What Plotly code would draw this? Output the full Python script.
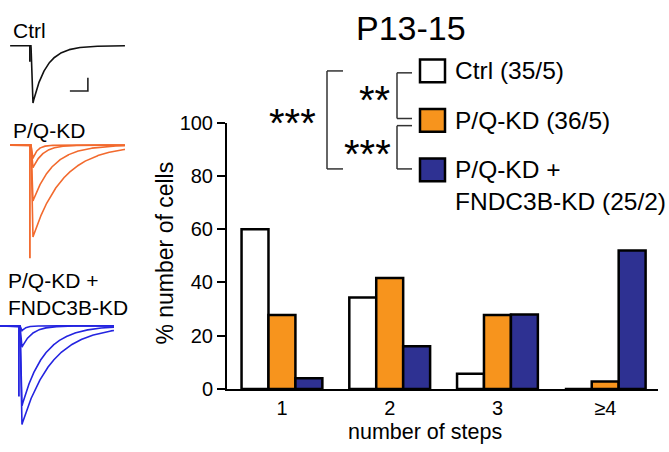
import numpy as np
import plotly.graph_objects as go

# ---------------- data ----------------
categories = ["1", "2", "3", "≥4"]
ctrl_pct = [60.0, 34.3, 5.7, 0.0]
pqkd_pct = [27.8, 41.7, 27.8, 2.8]
fndc_pct = [4.0, 16.0, 28.0, 52.0]
series_names = ["Ctrl (35/5)", "P/Q-KD (36/5)", "P/Q-KD +<br>FNDC3B-KD (25/2)"]
y_ticks = [0, 20, 40, 60, 80, 100]

# example EPSC traces: amplitudes (nA) and decay constants (ms)
ctrl_amp = [4.3]
ctrl_tau = [3.75]
pq_amp = [1.0, 1.7, 4.2, 6.9]
pq_tau = [1.3, 2.8, 5.6, 8.3]
fn_amp = [0.36, 1.6, 6.0, 7.4]
fn_tau = [1.1, 2.8, 6.1, 8.3]
artifact_amp = {"ctrl": 1.2, "pq": 8.5, "fn": 5.3}
t_start, t_end = -5.8, 26.1  # ms

# ---------------- styling ----------------
W, H = 669, 452
FONT = "Liberation Sans"
col_ctrl, col_pq, col_fn = "#FFFFFF", "#F7941D", "#2E3192"
tr_ctrl, tr_pq, tr_fn = "#111111", "#F26A2E", "#2424E0"
PX_MS, PX_NA = 3.6, 14.0


def px(x):
    return x / W


def py(y):
    return 1 - y / H


fig = go.Figure()

# ---------------- bars ----------------
for vals, name, col in zip([ctrl_pct, pqkd_pct, fndc_pct], series_names,
                           [col_ctrl, col_pq, col_fn]):
    fig.add_trace(go.Bar(x=categories, y=vals, name=name, marker_color=col,
                         marker_line_color="black", marker_line_width=2.5,
                         showlegend=False, xaxis="x", yaxis="y"))

fig.update_layout(
    barmode="group", bargap=0.25, bargroupgap=0,
    xaxis=dict(domain=[px(227), px(658)], range=[-0.51, 3.49],
               showline=True, linecolor="black", linewidth=2,
               ticks="",
               tickfont=dict(size=20, family=FONT, color="black"),
               showgrid=False, zeroline=False, fixedrange=True),
    yaxis=dict(domain=[py(397.3), py(117.3)], range=[0, 100],
               tickvals=y_ticks, showline=True, linecolor="black", linewidth=2,
               ticks="outside", ticklen=8, tickwidth=2, tickcolor="black",
               tickfont=dict(size=20, family=FONT, color="black"),
               showgrid=False, zeroline=False),
)

# ---------------- inset traces ----------------


def epsc(t, amp, tau, rise=0.55):
    y = np.zeros_like(t)
    m1 = (t >= 0) & (t < rise)
    y[m1] = -amp * t[m1] / rise
    m2 = t >= rise
    y[m2] = -amp * np.exp(-(t[m2] - rise) / tau)
    return y


t = np.linspace(t_start, t_end, 900)
insets = [
    ("x2", "y2", 31, 36.5, ctrl_amp, ctrl_tau, tr_ctrl, artifact_amp["ctrl"]),
    ("x3", "y3", 31, 141, pq_amp, pq_tau, tr_pq, artifact_amp["pq"]),
    ("x4", "y4", 20, 331, fn_amp, fn_tau, tr_fn, artifact_amp["fn"]),
]
box_x = (0, 132)
box_y = [(28, 110), (132, 268), (322, 448)]
for i, (xa, ya, x0, y0, amps, taus, col, art) in enumerate(insets):
    bx0, bx1 = box_x
    by0, by1 = box_y[i]
    xr = [(bx0 - x0) / PX_MS, (bx1 - x0) / PX_MS]
    yr = [-(by1 - y0) / PX_NA, -(by0 - y0) / PX_NA]
    n = i + 2
    fig.update_layout(**{
        f"xaxis{n}": dict(domain=[px(bx0), px(bx1)], range=xr, visible=False,
                          anchor=f"y{n}"),
        f"yaxis{n}": dict(domain=[py(by1), py(by0)], range=yr, visible=False,
                          anchor=f"x{n}"),
    })
    for a, tau in zip(amps, taus):
        fig.add_trace(go.Scatter(x=t, y=epsc(t, a, tau), mode="lines",
                                 line=dict(color=col, width=1.6),
                                 showlegend=False, xaxis=xa, yaxis=ya,
                                 hoverinfo="skip"))
    # stimulus artifact
    fig.add_trace(go.Scatter(x=[-0.3, -0.3], y=[0, -art], mode="lines",
                             line=dict(color=col, width=1.8), showlegend=False,
                             xaxis=xa, yaxis=ya, hoverinfo="skip"))

# scale bar (Ctrl inset)
fig.add_trace(go.Scatter(x=[10.8, 15.8, 15.8], y=[-3.4, -3.4, -2.4], mode="lines",
                         line=dict(color="#222222", width=1.6), showlegend=False,
                         xaxis="x2", yaxis="y2", hoverinfo="skip"))

shapes = []
annotations = []


def txt(x, y, s, size, xanchor="center", yanchor="middle", angle=0):
    annotations.append(dict(x=px(x), y=py(y), xref="paper", yref="paper",
                            text=s, showarrow=False, xanchor=xanchor,
                            yanchor=yanchor, textangle=angle, align="left",
                            font=dict(size=size, family=FONT, color="black")))


def line(x0, y0, x1, y1, w=1.5, c="#333333"):
    shapes.append(dict(type="line", xref="paper", yref="paper",
                       x0=px(x0), y0=py(y0), x1=px(x1), y1=py(y1),
                       line=dict(color=c, width=w)))


# inset labels
txt(11, 21, "Ctrl", 21, xanchor="left")
txt(11, 126, "P/Q-KD", 21, xanchor="left")
txt(6, 298, "P/Q-KD +<br>FNDC3B-KD", 21, xanchor="left")

# title & axis titles
txt(411, 18, "P13-15", 34)
txt(165, 255, "% number of cells", 23, angle=-90)
txt(425, 443, "number of steps", 21.5)

# legend boxes and labels
legend_y = [63, 115, 167]
for yc, col in zip(legend_y, [col_ctrl, col_pq, col_fn]):
    shapes.append(dict(type="rect", xref="paper", yref="paper",
                       x0=px(420), x1=px(445), y0=py(yc - 12), y1=py(yc + 12),
                       fillcolor=col, line=dict(color="black", width=2.5)))
txt(453, 63, series_names[0], 24.5, xanchor="left")
txt(453, 115, series_names[1], 24.5, xanchor="left")
txt(453, 183, series_names[2], 24.5, xanchor="left")

# significance brackets
line(327, 63, 327, 166)
line(327, 63, 343, 63)
line(327, 166, 343, 166)
line(397, 65, 397, 113)
line(397, 65, 412, 65)
line(397, 113, 412, 113)
line(397, 120.5, 397, 166)
line(397, 120.5, 412, 120.5)
line(397, 166, 412, 166)
txt(292, 118, "***", 40)
txt(375, 94, "**", 40)
txt(367, 150, "***", 40)

fig.update_layout(width=W, height=H, margin=dict(l=0, r=0, t=0, b=0),
                  paper_bgcolor="white", plot_bgcolor="rgba(0,0,0,0)",
                  shapes=shapes, annotations=annotations,
                  font=dict(family=FONT, color="black"))

fig.write_html("out.html")
